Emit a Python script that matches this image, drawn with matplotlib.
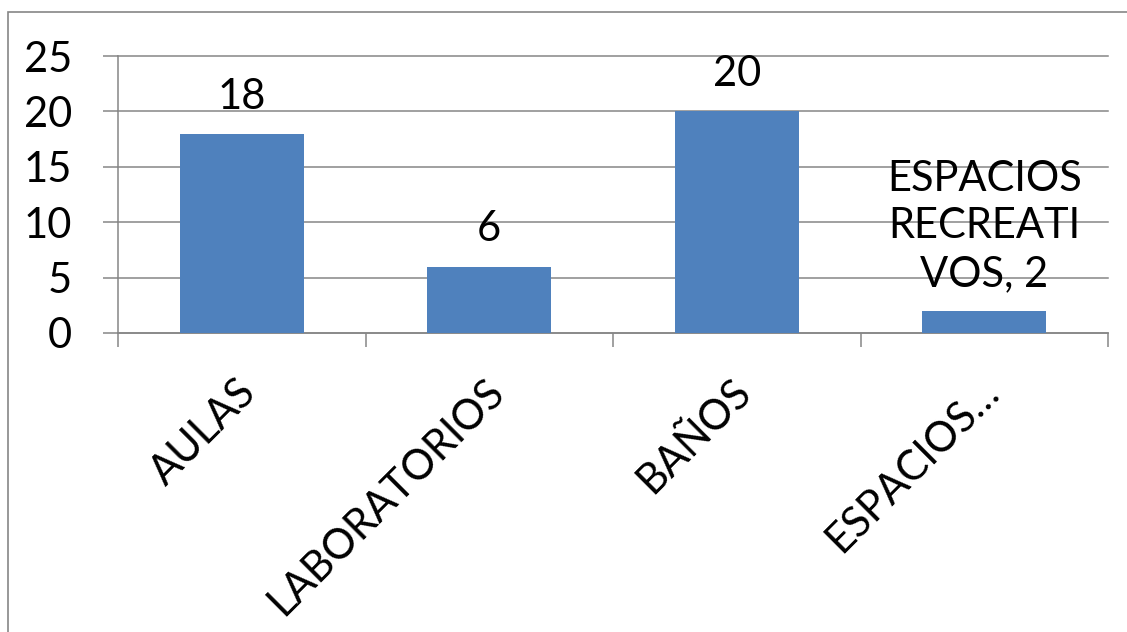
import matplotlib
matplotlib.use("Agg")
import matplotlib.pyplot as plt
import matplotlib.patches as patches
from matplotlib.transforms import ScaledTranslation

# datos del grafico
categorias = ["AULAS", "LABORATORIOS", "BAÑOS", "ESPACIOS…"]
valores = [18, 6, 20, 2]
etiquetas_datos = ["18", "6", "20", "ESPACIOS\nRECREATI\nVOS, 2"]
y_ticks = [0, 5, 10, 15, 20, 25]

azul = "#4F81BD"
gris = "#868686"
fuente = "Lato"
tam = 30

plt.rcParams["font.family"] = [fuente, "DejaVu Sans"]

fig = plt.figure(figsize=(11.27, 6.32), dpi=100)
ax = fig.add_axes([118 / 1127, 1 - 333 / 632, (1108 - 118) / 1127, (333 - 56) / 632])

# marco exterior del grafico (se sale por la derecha y abajo)
fig.patches.append(patches.Rectangle((8 / 1127, -0.1), 1.2, 1 - 12 / 632 + 0.1,
                                     transform=fig.transFigure, fill=False,
                                     edgecolor=gris, linewidth=1.2))

x = list(range(len(categorias)))
barras = ax.bar(x, valores, width=0.5, color=azul, zorder=3)
ax.bar_label(barras, labels=etiquetas_datos, padding=13, fontsize=tam,
             linespacing=1.3)

ax.set_xlim(-0.5, len(categorias) - 0.5)
ax.set_ylim(0, 25)
ax.set_yticks(y_ticks)
ax.yaxis.grid(True, color=gris, linewidth=1.1, zorder=0)
for gl in ax.get_ygridlines():
    gl.set_clip_on(False)
ax.tick_params(axis="y", direction="out", length=11, width=1.1, color=gris,
               pad=22, labelsize=tam)

# ticks de categoria en los limites, etiquetas en el centro
ax.set_xticks(x)
ax.set_xticklabels(categorias, rotation=45, ha="right", va="center",
                   rotation_mode="anchor", fontsize=tam)
ax.set_xticks([i - 0.5 for i in range(len(categorias) + 1)], minor=True)
ax.tick_params(axis="x", which="major", length=0, pad=38)
ax.tick_params(axis="x", which="minor", direction="out", length=10, width=1.1,
               color=gris)
for lab in ax.get_xticklabels():
    lab.set_transform(lab.get_transform() + ScaledTranslation(0.08, 0, fig.dpi_scale_trans))

for s in ["top", "right"]:
    ax.spines[s].set_visible(False)
for s in ["left", "bottom"]:
    ax.spines[s].set_color(gris)
    ax.spines[s].set_linewidth(1.1)

fig.savefig("out.png", dpi=100)
